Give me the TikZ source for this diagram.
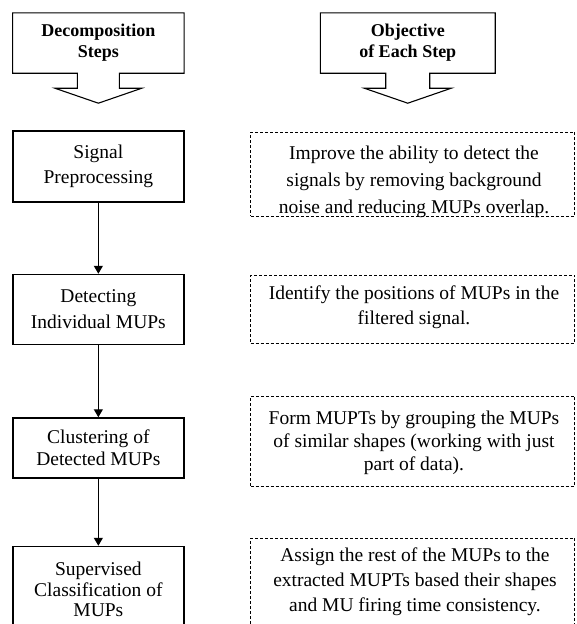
\documentclass[tikz,border=0pt]{standalone}
\usepackage{fontspec}
\setmainfont{Liberation Serif}
\usetikzlibrary{positioning,calc,arrows.meta}

\begin{document}
\begin{tikzpicture}[x=1pt, y=-1pt,
  hdbox/.style={minimum width=#1, minimum height=60pt, inner sep=0pt, align=center, font=\bfseries\fontsize{18}{21}\selectfont},
  hdline/.style={line width=1.1pt, line join=miter},
  stepbox/.style={draw, line width=1.5pt, minimum width=171pt, inner sep=0pt, align=center},
  goalbox/.style={draw, line width=0.9pt, dash pattern=on 3pt off 2pt, minimum width=324pt, inner sep=0pt},
  goaltext/.style={inner sep=0pt, align=center},
  flow/.style={-{Triangle[length=8pt,width=9pt]}, line width=1.3pt}]
\useasboundingbox (0,0) rectangle (576,624);

% column headers
\node (hdsteps) [hdbox=171pt] at (98.35,43) {Decomposition\\Steps};
\node (hdgoal) [hdbox=174.5pt] at (407.75,43) {Objective\\of Each Step};
\draw[hdline] ($(hdsteps.south)+(-21,0)$) -- (hdsteps.south west) -- (hdsteps.north west) -- (hdsteps.north east) -- (hdsteps.south east) -- ($(hdsteps.south)+(21,0)$) -- ++(0,15) -- ++(22.5,0) -- ++(-43.5,15) -- ++(-43.5,-15) -- ++(22.5,0) -- cycle;
\draw[hdline] ($(hdgoal.south)+(-22,0)$) -- (hdgoal.south west) -- (hdgoal.north west) -- (hdgoal.north east) -- (hdgoal.south east) -- ($(hdgoal.south)+(22,0)$) -- ++(0,15) -- ++(21.5,0) -- ++(-43.5,15) -- ++(-43.5,-15) -- ++(21.5,0) -- cycle;

% decomposition steps
\node (sig) [stepbox, minimum height=71pt, font=\fontsize{19.5}{25}\selectfont] at (98.35,166.5) {Signal\\Preprocessing};
\node (det) [stepbox, minimum height=70pt, font=\fontsize{19.5}{26}\selectfont, below=71pt of sig] {Detecting\\Individual MUPs};
\node (clu) [stepbox, minimum height=60pt, font=\fontsize{19.5}{22}\selectfont, below=72pt of det] {Clustering of\\Detected MUPs};
\node (sup) [stepbox, minimum height=86pt, font=\fontsize{19.5}{20.5}\selectfont, below=67pt of clu] {Supervised\\Classification of\\MUPs};

\draw[flow] (sig) -- (det);
\draw[flow] (det) -- (clu);
\draw[flow] (clu) -- (sup);

% objectives
\node (goal1) [goalbox, minimum height=84pt] at (412.85,174) {};
\node (goal1txt) [goaltext, font=\fontsize{19.5}{27}\selectfont] at (414,181.5) {Improve the ability to detect the\\signals by removing background\\noise and reducing MUPs overlap.};
\node (goal2) [goalbox, minimum height=68pt] at (412.5,309) {};
\node (goal2txt) [goaltext, font=\fontsize{19.5}{25}\selectfont] at (414,307.5) {Identify the positions of MUPs in the\\filtered signal.};
\node (goal3) [goalbox, minimum height=90pt] at (412.5,441.3) {};
\node (goal3txt) [goaltext, font=\fontsize{19.5}{23}\selectfont] at (414,443) {Form MUPTs by grouping the MUPs\\of similar shapes (working with just\\part of data).};
\node (goal4) [goalbox, minimum height=94pt] at (412.85,585) {};
\node (goal4txt) [goaltext, font=\fontsize{19.5}{25}\selectfont] at (415,582) {Assign the rest of the MUPs to the\\extracted MUPTs based their shapes\\and MU firing time consistency.};
\end{tikzpicture}
\end{document}
